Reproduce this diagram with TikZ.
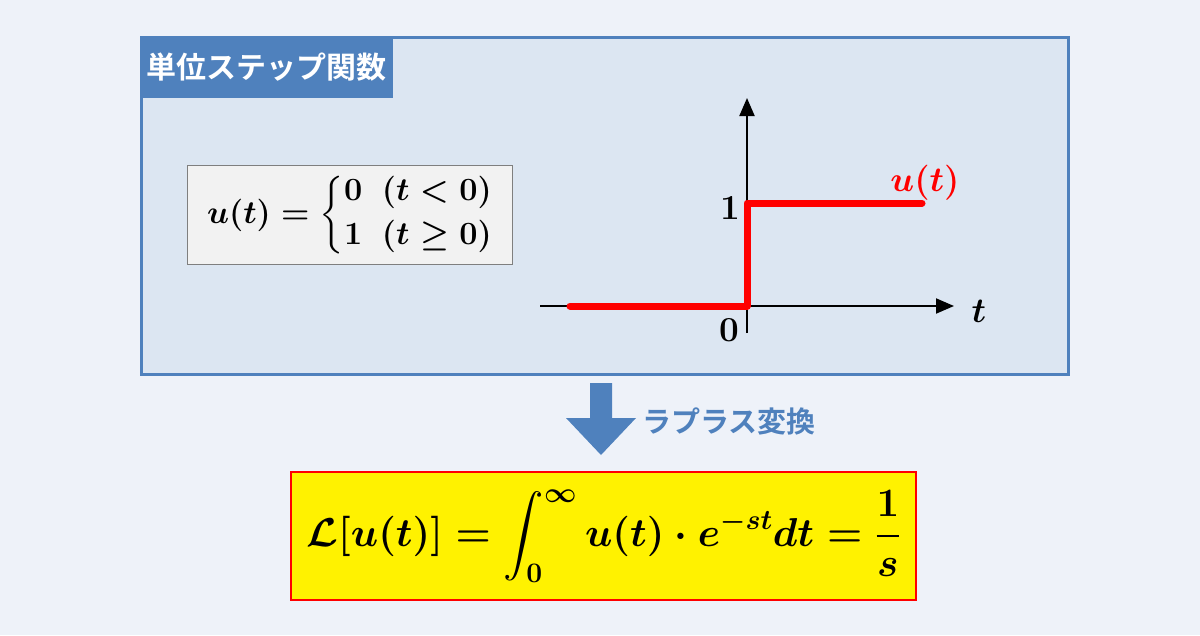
\RequirePackage{fix-cm}
\documentclass[tikz,border=0pt]{standalone}
\usepackage{amsmath}
\usepackage{amssymb}
\usepackage{graphicx}
\usepackage{fontspec}
\newfontfamily\jpfont{Noto Sans CJK JP Bold}
\usetikzlibrary{arrows.meta,positioning}

\definecolor{bgblue}{HTML}{EEF2F9}
\definecolor{panelfill}{HTML}{DCE6F2}
\definecolor{panelblue}{HTML}{4F81BD}
\definecolor{boxgray}{HTML}{F2F2F2}
\definecolor{boxline}{HTML}{7F7F7F}

\newsavebox{\stepdefbox}
\newsavebox{\onebox}
\newsavebox{\zerobox}
\newsavebox{\tbox}
\newsavebox{\ubox}
\newsavebox{\laplacebox}

\begin{document}
\sbox{\stepdefbox}{\scalebox{1.2}{\fontsize{27}{30}\selectfont\boldmath$u(t)=\left\{\begin{array}{@{}l@{}}0\ \ (t<0)\\[7pt] 1\ \ (t\ge 0)\end{array}\right.$}}%
\sbox{\onebox}{\scalebox{1.35}{\fontsize{26}{30}\selectfont\boldmath$1$}}%
\sbox{\zerobox}{\scalebox{1.35}{\fontsize{26}{30}\selectfont\boldmath$0$}}%
\sbox{\tbox}{\scalebox{1.35}{\fontsize{26}{30}\selectfont\boldmath$t$}}%
\sbox{\ubox}{\scalebox{1.35}{\color{red}\fontsize{26}{30}\selectfont\boldmath$u(t)$}}%
\sbox{\laplacebox}{\scalebox{1.12}{\fontsize{36}{40}\selectfont\boldmath$\displaystyle\mathcal{L}[u(t)]=\int_0^\infty u(t)\cdot e^{-st}dt=\frac{1}{s}$}}%
\begin{tikzpicture}[x=1pt,y=-1pt,>={Triangle[length=18pt,width=15pt]},
      inner sep=0pt]
    \tikzstyle{panel}=[draw=panelblue,fill=panelfill,line width=2.5pt,anchor=north west]
    \tikzstyle{tab}=[fill=panelblue,text=white,anchor=north west,font=\jpfont\fontsize{30}{34}\selectfont]
    \tikzstyle{defbox}=[draw=boxline,fill=boxgray,line width=1.2pt,anchor=north west]
    \tikzstyle{resultbox}=[draw=red,fill=yellow,line width=2pt,anchor=north west]
    \tikzstyle{axis}=[->,line width=2pt]
    \tikzstyle{stepline}=[red,line width=7pt,line cap=round,line join=round]

    \useasboundingbox[fill=bgblue] (0,0) rectangle (1200,635);

    \node[panel,minimum width=927,minimum height=337] (panel) at (140,36) {};
    \node[tab,minimum width=253,minimum height=62] (title) at (panel.north west) {単位ステップ関数};

    \node[defbox,minimum width=325,minimum height=99] (def) at (187,165) {\usebox{\stepdefbox}};

    % axes
    \coordinate (xl) at (540,306);
    \coordinate (xr) at (954,306);
    \coordinate (yb) at (747,333);
    \coordinate (yt) at (747,98);
    \draw[axis] (xl) -- (xr);
    \draw[axis] (yb) -- (yt);

    % step
    \coordinate (s0) at (570,306);
    \coordinate (O)  at (747,306);
    \coordinate (s1) at (747,203);
    \coordinate (s2) at (922,203);
    \draw[stepline] (s0) -- (O) -- (s1) -- (s2);

    \node (one)  at (730,208) {\usebox{\onebox}};
    \node (zero) at (729,330) {\usebox{\zerobox}};
    \node (tlbl) at (979,311) {\usebox{\tbox}};
    \node (ulbl) at (925,183) {\usebox{\ubox}};

    % transform arrow
    \fill[panelblue] (590,383) -- (612,383) -- (612,418) -- (636,418) -- (601,455)
      -- (566,418) -- (590,418) -- cycle;
    \node[anchor=west,text=panelblue,font=\jpfont\fontsize{29}{32}\selectfont] (lap) at (642,421) {ラプラス変換};

    \node[resultbox,minimum width=625,minimum height=128] (res) at (290,471) {\usebox{\laplacebox}};
  \end{tikzpicture}
\end{document}
